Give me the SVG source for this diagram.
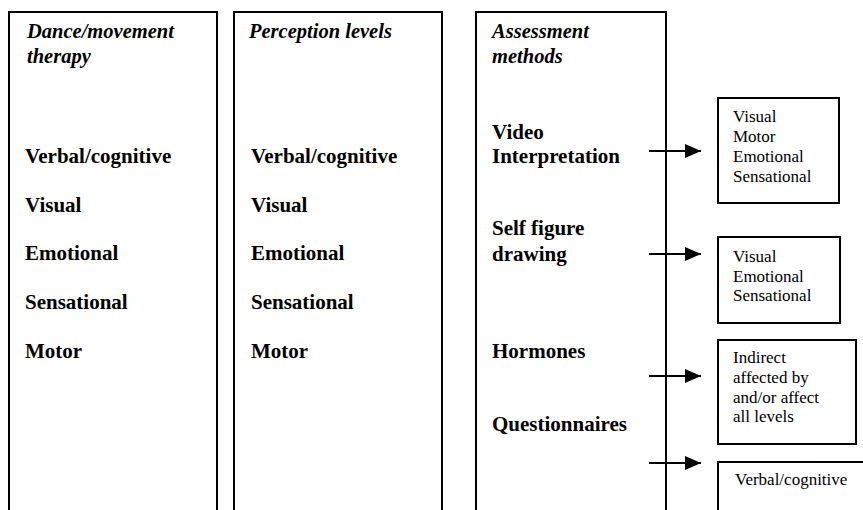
<svg xmlns="http://www.w3.org/2000/svg" width="863" height="510" viewBox="0 0 863 510">
<style>
.col{fill:none;stroke:#000;stroke-width:2}
.box{fill:#fff;stroke:#000;stroke-width:2}
text{font-family:'Liberation Serif','Times New Roman',Times,Tinos,serif;fill:#000}
.hd{font-weight:bold;font-style:italic;font-size:20.5px}
.b{font-weight:bold;font-size:21px}
.t{font-size:17px}
.ar{stroke:#000;stroke-width:2;fill:none}
</style>
<defs>
<marker id="ah" viewBox="0 0 16 14" refX="16" refY="7" markerWidth="16" markerHeight="14" markerUnits="userSpaceOnUse" orient="auto">
<path d="M0,0 L16,7 L0,14 Z" fill="#000"/>
</marker>
</defs>
<rect width="863" height="510" fill="#fff"/>
<g id="dance">
<path class="col" d="M9,520 V12 H217 V520"/>
<text class="hd" x="27" y="38">Dance/movement</text>
<text class="hd" x="27" y="63">therapy</text>
<text class="b" x="25" y="163">Verbal/cognitive</text>
<text class="b" x="25" y="212">Visual</text>
<text class="b" x="25" y="260">Emotional</text>
<text class="b" x="25" y="309">Sensational</text>
<text class="b" x="25" y="358">Motor</text>
</g>
<g id="perception">
<path class="col" d="M234,520 V12 H442 V520"/>
<text class="hd" x="249" y="38">Perception levels</text>
<text class="b" x="251" y="163">Verbal/cognitive</text>
<text class="b" x="251" y="212">Visual</text>
<text class="b" x="251" y="260">Emotional</text>
<text class="b" x="251" y="309">Sensational</text>
<text class="b" x="251" y="358">Motor</text>
</g>
<g id="assessment">
<path class="col" d="M476,520 V12 H666 V520"/>
<text class="hd" x="492" y="38">Assessment</text>
<text class="hd" x="492" y="63">methods</text>
<text class="b" x="492" y="139">Video</text>
<text class="b" x="492" y="163">Interpretation</text>
<text class="b" x="492" y="235">Self figure</text>
<text class="b" x="492" y="261">drawing</text>
<text class="b" x="492" y="358">Hormones</text>
<text class="b" x="492" y="431">Questionnaires</text>
</g>
<g id="connectors">
<line class="ar" x1="649" y1="151" x2="701" y2="151" marker-end="url(#ah)"/>
<line class="ar" x1="649" y1="254" x2="701" y2="254" marker-end="url(#ah)"/>
<line class="ar" x1="649" y1="376" x2="701" y2="376" marker-end="url(#ah)"/>
<line class="ar" x1="649" y1="463" x2="701" y2="463" marker-end="url(#ah)"/>
</g>
<g id="res-video">
<rect class="box" x="718" y="98" width="121" height="105"/>
<text class="t" x="733" y="122">Visual</text>
<text class="t" x="733" y="142">Motor</text>
<text class="t" x="733" y="162">Emotional</text>
<text class="t" x="733" y="182">Sensational</text>
</g>
<g id="res-drawing">
<rect class="box" x="718" y="237" width="122" height="86"/>
<text class="t" x="733" y="262">Visual</text>
<text class="t" x="733" y="282">Emotional</text>
<text class="t" x="733" y="301">Sensational</text>
</g>
<g id="res-hormones">
<rect class="box" x="718" y="340" width="138" height="104"/>
<text class="t" x="733" y="363">Indirect</text>
<text class="t" x="733" y="383">affected by</text>
<text class="t" x="733" y="403">and/or affect</text>
<text class="t" x="733" y="422">all levels</text>
</g>
<g id="res-questionnaires">
<path class="col" d="M718,520 V462 H870"/>
<text class="t" x="735" y="485">Verbal/cognitive</text>
</g>
</svg>
